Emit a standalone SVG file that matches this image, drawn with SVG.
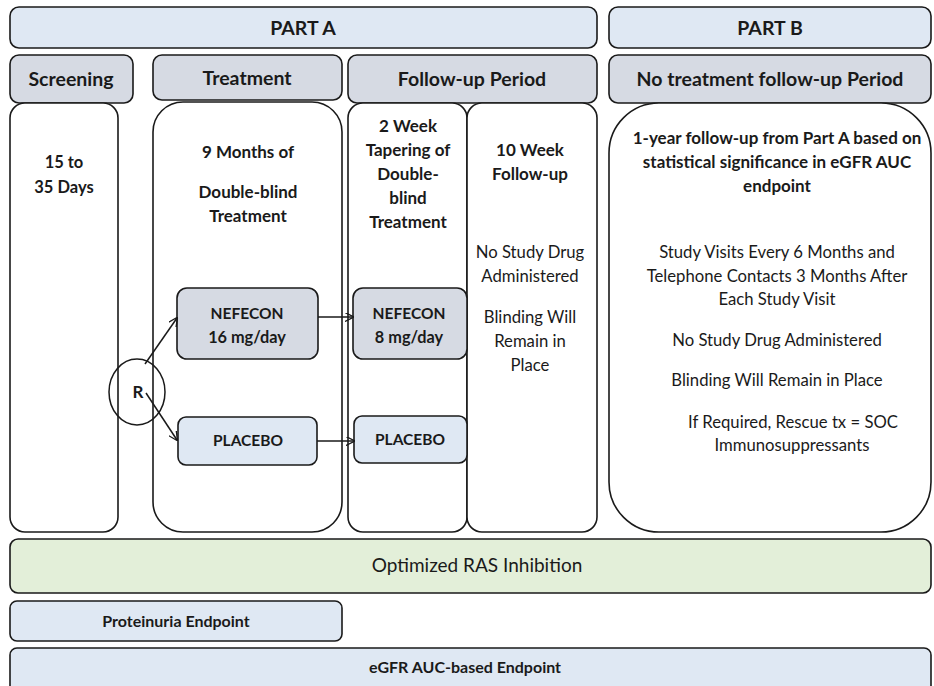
<svg xmlns="http://www.w3.org/2000/svg" width="934" height="686" viewBox="0 0 934 686">
<style>
.box{stroke:#1a1a1a;stroke-width:1.6}
.part{fill:#dfe8f3}
.hdr{fill:#d6dae3}
.col{fill:#ffffff}
.neb{fill:#d6dae3}
.plb{fill:#dfe8f3}
.grn{fill:#e3efd9}
text{font-family:Lato,"Open Sans","Liberation Sans",sans-serif;fill:#1a1a1a;text-anchor:middle}
.b{font-weight:bold}
.h{font-size:19.5px}
.tb{font-size:17px}
.tr{font-size:16.7px}
.tn{font-size:15.5px}
.t13{font-size:16px}
.conn{stroke:#1a1a1a;stroke-width:1.5;fill:none;marker-end:url(#ah)}
</style>
<defs>
<marker id="ah" viewBox="0 0 10 10" refX="9" refY="5" markerWidth="9" markerHeight="9" markerUnits="userSpaceOnUse" orient="auto">
<path d="M0,0 L10,5 L0,10" fill="none" stroke="#1a1a1a" stroke-width="1.5"/>
</marker>
</defs>

<g id="partA"><rect class="box part" x="10" y="7" width="587" height="41" rx="9"/><text class="b h" x="303" y="35">PART A</text></g>
<g id="partB"><rect class="box part" x="609" y="7" width="322" height="41" rx="9"/><text class="b h" x="770" y="35">PART B</text></g>

<g id="hdrScreening"><rect class="box hdr" x="10" y="55" width="123" height="48" rx="9"/><text class="b h" x="71" y="86">Screening</text></g>
<g id="hdrTreatment"><rect class="box hdr" x="153" y="55" width="189" height="45" rx="9"/><text class="b h" x="247" y="85">Treatment</text></g>
<g id="hdrFollowup"><rect class="box hdr" x="348" y="55" width="249" height="48" rx="9"/><text class="b h" x="472" y="86">Follow-up Period</text></g>
<g id="hdrNoTreat"><rect class="box hdr" x="609" y="55" width="322" height="48" rx="9"/><text class="b h" x="770" y="86">No treatment follow-up Period</text></g>

<g id="colScreening"><rect class="box col" x="10" y="103" width="108" height="429" rx="15"/>
<text class="b tb" x="64" y="168" style="font-size:16.5px">15 to</text><text class="b tb" x="64" y="193" style="font-size:16.5px">35 Days</text></g>
<g id="colTreatment"><rect class="box col" x="153" y="102" width="189" height="430" rx="30"/>
<text class="b tb" x="248" y="158">9 Months of</text><text class="b tb" x="248" y="198">Double-blind</text><text class="b tb" x="248" y="222">Treatment</text></g>
<g id="colTaper"><rect class="box col" x="348" y="103" width="119" height="429" rx="15"/>
<text class="b tb" x="408" y="132">2 Week</text><text class="b tb" x="408" y="156">Tapering of</text><text class="b tb" x="408" y="180">Double-</text><text class="b tb" x="408" y="204">blind</text><text class="b tb" x="408" y="228">Treatment</text></g>
<g id="col10Week"><rect class="box col" x="467" y="103" width="130" height="429" rx="15"/>
<text class="b tb" x="530" y="156">10 Week</text><text class="b tb" x="530" y="180">Follow-up</text>
<text class="tr" x="530" y="258">No Study Drug</text><text class="tr" x="530" y="282">Administered</text>
<text class="tr" x="530" y="323">Blinding Will</text><text class="tr" x="530" y="347">Remain in</text><text class="tr" x="530" y="371">Place</text></g>
<g id="colPartB"><rect class="box col" x="609" y="103" width="322" height="429" rx="50"/>
<text class="b tb" x="777" y="144">1-year follow-up from Part A based on</text><text class="b tb" x="777" y="168">statistical significance in eGFR AUC</text><text class="b tb" x="777" y="192">endpoint</text>
<text class="tr" x="777" y="258">Study Visits Every 6 Months and</text><text class="tr" x="777" y="282">Telephone Contacts 3 Months After</text><text class="tr" x="777" y="305">Each Study Visit</text>
<text class="tr" x="777" y="346">No Study Drug Administered</text>
<text class="tr" x="777" y="386">Blinding Will Remain in Place</text>
<text class="tr" x="793" y="428">If Required, Rescue tx = SOC</text><text class="tr" x="792" y="451">Immunosuppressants</text></g>

<g id="nefecon16"><rect class="box neb" x="177" y="288" width="141" height="71" rx="10"/><text class="b tn" x="247" y="319">NEFECON</text><text class="b tb" x="247" y="343" style="font-size:16.3px">16 mg/day</text></g>
<g id="nefecon8"><rect class="box neb" x="353" y="288" width="114" height="71" rx="10"/><text class="b tn" x="409" y="319">NEFECON</text><text class="b tb" x="409" y="343" style="font-size:16.3px">8 mg/day</text></g>
<g id="placebo1"><rect class="box plb" x="178" y="417" width="139" height="48" rx="8"/><text class="b tn" x="248" y="446">PLACEBO</text></g>
<g id="placebo2"><rect class="box plb" x="354" y="416" width="113" height="47" rx="8"/><text class="b tn" x="410" y="445">PLACEBO</text></g>
<g id="rand"><ellipse cx="137" cy="392" rx="28" ry="33" fill="none" stroke="#1a1a1a" stroke-width="1.5"/><text class="b tb" x="138" y="398">R</text></g>

<g id="connectors">
<line class="conn" x1="145" y1="364" x2="177" y2="318"/>
<line class="conn" x1="146" y1="393" x2="177" y2="440"/>
<line class="conn" x1="318" y1="317" x2="353" y2="317"/>
<line class="conn" x1="317" y1="441" x2="354" y2="441"/>
</g>

<g id="ras"><rect class="box grn" x="10" y="539" width="921" height="54" rx="8"/><text x="477" y="572" style="font-size:19px">Optimized RAS Inhibition</text></g>
<g id="proteinuria"><rect class="box plb" x="10" y="601" width="332" height="40" rx="7"/><text class="b t13" x="176" y="627">Proteinuria Endpoint</text></g>
<g id="egfr"><rect class="box plb" x="10" y="648" width="921" height="45" rx="7"/><text class="b t13" x="465" y="673">eGFR AUC-based Endpoint</text></g>
</svg>
